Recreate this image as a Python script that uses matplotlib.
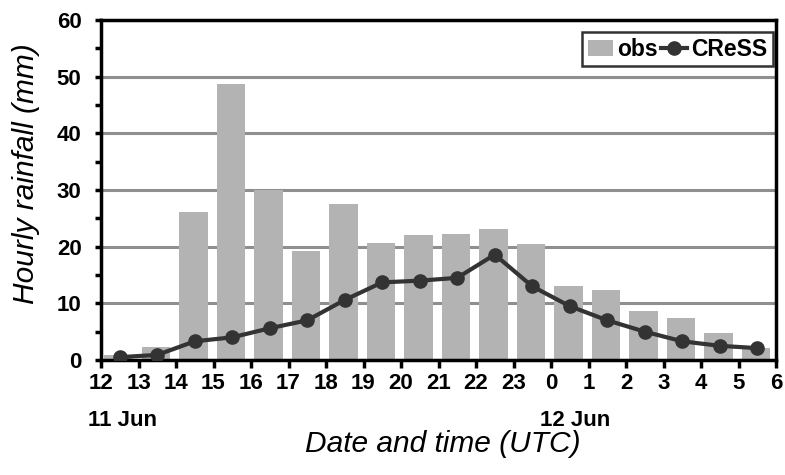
import matplotlib
matplotlib.use("Agg")
import matplotlib.pyplot as plt
import numpy as np
from matplotlib.ticker import MultipleLocator

hour_labels = ["12", "13", "14", "15", "16", "17", "18", "19", "20", "21", "22", "23",
               "0", "1", "2", "3", "4", "5", "6"]
obs = [0.8, 2.3, 26.2, 48.7, 30.0, 19.3, 27.6, 20.6, 22.1, 22.3, 23.2, 20.5,
       13.1, 12.3, 8.7, 7.5, 4.8, 2.2]
cress = [0.5, 0.9, 3.3, 4.0, 5.6, 7.0, 10.6, 13.7, 14.0, 14.5, 18.6, 13.0,
         9.5, 7.0, 5.0, 3.3, 2.5, 2.1]
yticks = [0, 10, 20, 30, 40, 50, 60]

plt.rcParams['font.family'] = ['Liberation Sans', 'DejaVu Sans']

fig = plt.figure(figsize=(7.85, 4.75), dpi=100)
ax = fig.add_axes([101/785, 1 - 360/475, 675/785, 340/475])

centers = np.arange(len(obs)) + 0.5
bars = ax.bar(centers - 0.04, obs, width=0.76, color='#b3b3b3', label='obs', zorder=2)
line, = ax.plot(centers, cress, color='#333333', lw=3, marker='o', ms=9.5,
                label='CReSS', zorder=3)

ax.set_xlim(0, len(hour_labels) - 1)
ax.set_ylim(0, 60)
ax.set_yticks(yticks)
ax.set_yticklabels([str(v) for v in yticks], fontweight='bold', fontsize=16)
ax.yaxis.set_minor_locator(MultipleLocator(5))
ax.set_xticks(np.arange(len(hour_labels)))
ax.set_xticklabels(hour_labels, fontweight='bold', fontsize=16)
ax.yaxis.grid(True, which='major', color='#8f8f8f', lw=2.2, zorder=0)
ax.set_axisbelow(True)
for s in ax.spines.values():
    s.set_linewidth(2.5)
    s.set_color('black')
ax.tick_params(axis='x', direction='out', length=5.5, width=2.5, pad=4)
ax.tick_params(axis='y', which='major', direction='out', length=4, width=2.5, pad=10)
ax.tick_params(axis='y', which='minor', direction='out', length=4, width=2.5)

ax.set_ylabel('Hourly rainfall (mm)', fontstyle='italic', fontsize=21.5)
ax.yaxis.set_label_coords(-0.0904, 0.5485)
ax.set_xlabel('Date and time (UTC)', fontstyle='italic', fontsize=21.5)
ax.xaxis.set_label_coords(0.507, -0.205)

ax.text(-0.347, -0.148, '11 Jun', transform=ax.get_xaxis_transform(), ha='left', va='top',
        fontweight='bold', fontsize=16)
ax.text(11.71, -0.148, '12 Jun', transform=ax.get_xaxis_transform(), ha='left', va='top',
        fontweight='bold', fontsize=16)

leg = ax.legend([bars, line], ['obs', 'CReSS'], loc='upper right', ncol=2, frameon=True,
                fancybox=False, edgecolor='black', prop={'weight': 'bold', 'size': 16.5},
                handlelength=1.1, handletextpad=0.2, columnspacing=0.15,
                borderpad=0.25, borderaxespad=0, bbox_to_anchor=(0.9956, 0.9647))
leg.get_frame().set_linewidth(1.8)

fig.savefig('out.png', dpi=100)
